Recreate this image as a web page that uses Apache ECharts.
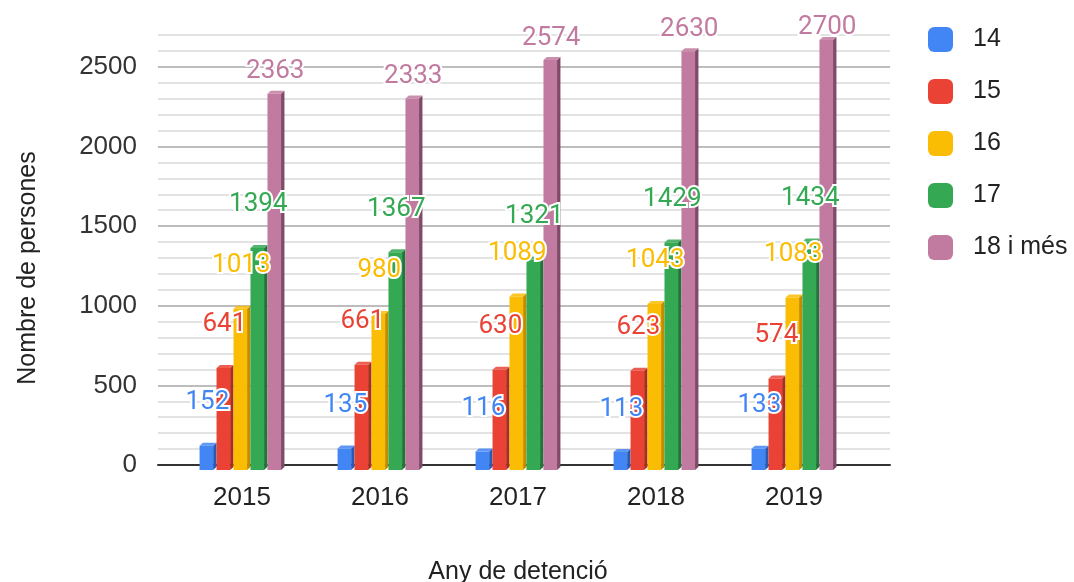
<!DOCTYPE html>
<html>
<head>
<meta charset="utf-8">
<script src="https://cdn.jsdelivr.net/npm/echarts@6.0.0/dist/echarts.min.js"></script>
<style>
  html, body { margin: 0; padding: 0; background: #fff; }
  #chart { width: 1074px; height: 582px; }
</style>
</head>
<body>
<div id="chart"></div>
<script>
// detencions per edat i any
var years = ['2015', '2016', '2017', '2018', '2019'];
var groups = ['14', '15', '16', '17', '18 i més'];
var age14 = [152, 135, 116, 113, 133];
var age15 = [641, 661, 630, 623, 574];
var age16 = [1013, 980, 1089, 1043, 1083];
var age17 = [1394, 1367, 1321, 1429, 1434];
var age18 = [2363, 2333, 2574, 2630, 2700];
var yLabels = [0, 500, 1000, 1500, 2000, 2500];

var values = [age14, age15, age16, age17, age18];
var colors = ['#4285f4', '#ea4335', '#fbbc04', '#34a853', '#c27ba0'];
var sides = ['#2a5bb0', '#a82d22', '#c08d00', '#237439', '#7e4b67'];
var labelLift = [43, 43, 43, 43, 22];

var myChart = echarts.init(document.getElementById('chart'));

function barRenderer(k) {
    return function (params, api) {
        var cat = api.value(0);
        var base = api.coord([cat, 0]);
        var top = api.coord([cat, api.value(1)]);
        var band = api.size([1, 0])[0];
        var slot = band * 0.123;
        var fw = slot * 0.8, dx = slot - fw, dy = 3;
        var x0 = base[0] - 2.5 * slot + k * slot;
        return {
            type: 'group',
            children: [
                { type: 'polygon', shape: { points: [[x0 + fw, top[1]], [x0 + slot, top[1] - dy], [x0 + slot, base[1] - dy], [x0 + fw, base[1]]] },
                  style: { fill: sides[k] } },
                { type: 'polygon', shape: { points: [[x0, top[1]], [x0 + fw, top[1]], [x0 + slot, top[1] - dy], [x0 + dx, top[1] - dy]] },
                  style: { fill: colors[k], opacity: 0.85 } },
                { type: 'rect', shape: { x: x0, y: top[1], width: fw, height: base[1] - top[1] },
                  style: { fill: colors[k] } }
            ]
        };
    };
}

function labelRenderer(k) {
    return function (params, api) {
        var cat = api.value(0);
        var base = api.coord([cat, 0]);
        var top = api.coord([cat, api.value(1)]);
        var band = api.size([1, 0])[0];
        var slot = band * 0.123;
        var fw = slot * 0.8;
        var x0 = base[0] - 2.5 * slot + k * slot;
        var y = Math.max(top[1] - labelLift[k], 27);
        return {
            type: 'text',
            style: {
                text: String(api.value(1)), x: x0 + fw / 2 + 1, y: y,
                align: 'center', verticalAlign: 'middle',
                fill: colors[k], stroke: '#fff', lineWidth: 4,
                fontFamily: 'Roboto', fontSize: 26
            }
        };
    };
}

var series = [];
groups.forEach(function (g, k) {
    var d = years.map(function (y, i) { return [i, values[k][i]]; });
    series.push({
        name: g, type: 'custom', xAxisIndex: 1, yAxisIndex: 1, z: 2,
        itemStyle: { color: colors[k] },
        renderItem: barRenderer(k), data: d
    });
});
groups.forEach(function (g, k) {
    var d = years.map(function (y, i) { return [i, values[k][i]]; });
    series.push({
        name: g, type: 'custom', xAxisIndex: 1, yAxisIndex: 1, z: 5,
        itemStyle: { color: colors[k] },
        renderItem: labelRenderer(k), data: d
    });
});

var chartOption = {
    animation: false,
    textStyle: { fontFamily: 'Liberation Sans' },
    legend: {
        data: groups,
        orient: 'vertical',
        left: 923, top: 22,
        itemWidth: 25, itemHeight: 25, itemGap: 27,
        icon: 'roundRect',
        textStyle: { fontSize: 25, color: '#222', padding: [0, 0, 0, 15] }
    },
    grid: [
        { left: 158, right: 184, top: 35, bottom: 117, outerBoundsMode: 'none' },
        { left: 173, right: 211, top: 40, bottom: 112, outerBoundsMode: 'none' }
    ],
    xAxis: [
        {
            gridIndex: 0, type: 'category', data: years,
            axisLine: { lineStyle: { color: '#333', width: 2 } },
            axisTick: { show: false }, axisLabel: { show: false }
        },
        {
            gridIndex: 1, type: 'category', data: years,
            axisLine: { show: false }, axisTick: { show: false },
            axisLabel: { fontSize: 26, color: '#222', margin: 15 },
            name: 'Any de detenció', nameLocation: 'middle', nameGap: 90,
            nameTextStyle: { fontSize: 25, color: '#222' }
        }
    ],
    yAxis: [
        {
            gridIndex: 0, type: 'value', min: 0, max: 2700, interval: 100,
            axisLine: { show: false }, axisTick: { show: false },
            axisLabel: {
                fontSize: 26, color: '#333', margin: 21,
                formatter: function (v) { return yLabels.indexOf(v) >= 0 ? String(v) : ''; }
            },
            splitLine: { lineStyle: { color: ['#bdbdbd', '#e3e3e3', '#e3e3e3', '#e3e3e3', '#e3e3e3'], width: 2 } },
            name: 'Nombre de persones', nameLocation: 'middle', nameGap: 117, nameRotate: 90,
            nameTextStyle: { fontSize: 25, color: '#222', padding: [0, 36, 0, 0] }
        },
        {
            gridIndex: 1, type: 'value', min: 0, max: 2700, interval: 100, show: false,
            splitLine: { show: false }
        }
    ],
    series: series
};
myChart.setOption(chartOption);
</script>
</body>
</html>
